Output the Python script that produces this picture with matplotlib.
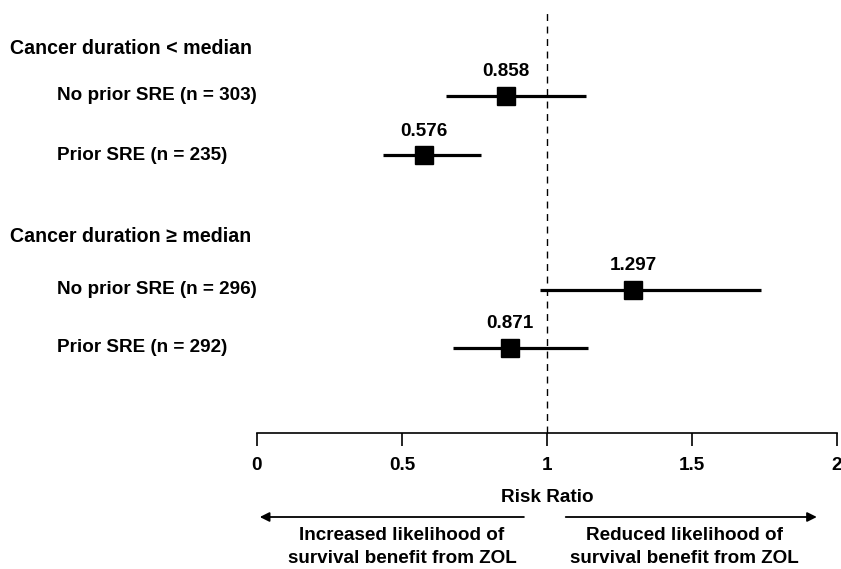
import numpy as np
import matplotlib
matplotlib.use('Agg')
import matplotlib.pyplot as plt
import matplotlib.transforms as mtransforms

plt.rcParams['font.family'] = ['Liberation Sans', 'DejaVu Sans']
plt.rcParams['font.weight'] = 'bold'

# data
headings = ['Cancer duration < median', 'Cancer duration \u2265 median']
labels = ['No prior SRE (n = 303)', 'Prior SRE (n = 235)',
          'No prior SRE (n = 296)', 'Prior SRE (n = 292)']
ratio = [0.858, 0.576, 1.297, 0.871]
ci_lo = [0.652, 0.434, 0.976, 0.676]
ci_hi = [1.134, 0.772, 1.738, 1.141]
xticks = [0, 0.5, 1, 1.5, 2]
xtick_labels = ['0', '0.5', '1', '1.5', '2']

# layout (rows, in pixels from top)
heading_y = [48, 237]
row_y = [96, 155, 290, 348]
fs = 13.6

W, H = 841, 569
fig = plt.figure(figsize=(W / 100, H / 100), dpi=100)
ax = fig.add_axes([257 / W, (H - 433) / H, 580 / W, 433 / H])
ax.set_xlim(0, 2)
ax.set_ylim(433, 0)

for s in ['top', 'left', 'right']:
    ax.spines[s].set_visible(False)
ax.spines['bottom'].set_linewidth(1.2)
ax.set_yticks([])
ax.set_xticks(xticks)
ax.set_xticklabels(xtick_labels, fontsize=fs, fontweight='bold')
ax.tick_params(axis='x', direction='out', length=9, width=1.2, pad=8)
ax.set_xlabel('Risk Ratio', fontsize=fs, fontweight='bold', labelpad=11)

# reference line
ax.plot([1, 1], [433, 10], color='black', lw=1, ls=(0, (5, 4)), clip_on=False)

# CIs and points
for r, lo, hi, y in zip(ratio, ci_lo, ci_hi, row_y):
    ax.plot([lo, hi], [y, y], color='black', lw=2.3, solid_capstyle='butt')
    ax.plot(r, y, marker='s', ms=13.5, color='black')
    ax.text(r, y - 24, '%.3f' % r, ha='center', va='center',
            fontsize=fs, fontweight='bold')

# left labels
trans = mtransforms.blended_transform_factory(fig.transFigure, ax.transData)
for h, y in zip(headings, heading_y):
    ax.text(10 / W, y, h, transform=trans, ha='left', va='center',
            fontsize=fs + 0.5, fontweight='bold')
for lab, y in zip(labels, row_y):
    ax.text(57 / W, y, lab, transform=trans, ha='left', va='center',
            fontsize=fs, fontweight='bold')

# direction arrows
arr = dict(arrowstyle='-|>', color='black', lw=1.3, mutation_scale=14)
ax.annotate('', xy=(0.0, 517), xytext=(0.93, 517), xycoords='data',
            arrowprops=arr, annotation_clip=False)
ax.annotate('', xy=(1.94, 517), xytext=(1.055, 517), xycoords='data',
            arrowprops=arr, annotation_clip=False)
ax.text(0.5, 547, 'Increased likelihood of\nsurvival benefit from ZOL',
        ha='center', va='center', fontsize=fs, fontweight='bold',
        linespacing=1.45, clip_on=False)
ax.text(1.473, 547, 'Reduced likelihood of\nsurvival benefit from ZOL',
        ha='center', va='center', fontsize=fs, fontweight='bold',
        linespacing=1.45, clip_on=False)

fig.savefig('out.png', dpi=100)
